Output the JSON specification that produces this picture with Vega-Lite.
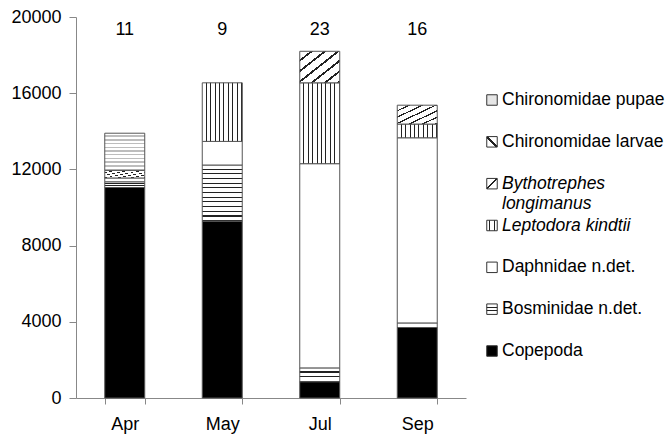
{
  "$schema": "https://vega.github.io/schema/vega-lite/v6.json",
  "autosize": {"type": "pad"},
  "padding": {"left": 10, "top": 8, "right": 0, "bottom": 0},
  "bounds": "flush",
  "spacing": 26,
  "config": {
    "view": {"stroke": null},
    "font": "Liberation Sans",
    "axis": {
      "domainColor": "#888888",
      "tickColor": "#888888",
      "labelColor": "#000000",
      "labelFont": "Liberation Sans",
      "labelFontSize": 18,
      "grid": false,
      "title": null
    }
  },
  "hconcat": [
    {
      "width": 390,
      "height": 381,
      "layer": [
        {
          "data": {
            "values": [
              {"month": "Apr", "taxon": "Copepoda", "rank": 1, "count": 11050},
              {"month": "Apr", "taxon": "Bosminidae n.det.", "rank": 2, "count": 300},
              {"month": "Apr", "taxon": "Daphnidae n.det.", "rank": 3, "count": 200},
              {"month": "Apr", "taxon": "Bythotrephes longimanus", "rank": 5, "count": 400},
              {"month": "Apr", "taxon": "Chironomidae pupae", "rank": 7, "count": 1950},
              {"month": "May", "taxon": "Copepoda", "rank": 1, "count": 9280},
              {"month": "May", "taxon": "Bosminidae n.det.", "rank": 2, "count": 2950},
              {"month": "May", "taxon": "Daphnidae n.det.", "rank": 3, "count": 1240},
              {"month": "May", "taxon": "Leptodora kindtii", "rank": 4, "count": 3075},
              {"month": "Jul", "taxon": "Copepoda", "rank": 1, "count": 855},
              {"month": "Jul", "taxon": "Bosminidae n.det.", "rank": 2, "count": 725},
              {"month": "Jul", "taxon": "Daphnidae n.det.", "rank": 3, "count": 10720},
              {"month": "Jul", "taxon": "Leptodora kindtii", "rank": 4, "count": 4245},
              {"month": "Jul", "taxon": "Bythotrephes longimanus", "rank": 5, "count": 1655},
              {"month": "Sep", "taxon": "Copepoda", "rank": 1, "count": 3700},
              {"month": "Sep", "taxon": "Bosminidae n.det.", "rank": 2, "count": 240},
              {"month": "Sep", "taxon": "Daphnidae n.det.", "rank": 3, "count": 9720},
              {"month": "Sep", "taxon": "Leptodora kindtii", "rank": 4, "count": 720},
              {"month": "Sep", "taxon": "Bythotrephes longimanus", "rank": 5, "count": 990}
            ]
          },
          "mark": {"type": "bar", "stroke": "#555555", "strokeWidth": 1},
          "encoding": {
            "x": {
              "field": "month",
              "type": "nominal",
              "sort": ["Apr", "May", "Jul", "Sep"],
              "scale": {"paddingInner": 0.59, "paddingOuter": 0.295},
              "axis": {"labelAngle": 0, "tickBand": "extent", "tickSize": 6, "labelPadding": 11}
            },
            "y": {
              "field": "count",
              "type": "quantitative",
              "stack": "zero",
              "scale": {"domain": [0, 20000], "nice": false},
              "axis": {"values": [0, 4000, 8000, 12000, 16000, 20000], "format": "d", "tickSize": 7, "labelPadding": 8}
            },
            "order": {"field": "rank", "type": "quantitative", "sort": "ascending"},
            "fill": {
              "field": "taxon",
              "type": "nominal",
              "legend": null,
              "condition": [
                {"test": "datum.taxon == 'Bosminidae n.det.' && datum.month == 'May'", "value": {"gradient": "linear", "x1": 0, "y1": 0, "x2": 0, "y2": 1, "stops": [
                  {"offset": 0, "color": "#ffffff"}, {"offset": 0.0625, "color": "#ffffff"}, {"offset": 0.0625, "color": "#222222"}, {"offset": 0.0833, "color": "#222222"},
                  {"offset": 0.0833, "color": "#ffffff"}, {"offset": 0.1458, "color": "#ffffff"}, {"offset": 0.1458, "color": "#222222"}, {"offset": 0.1667, "color": "#222222"},
                  {"offset": 0.1667, "color": "#ffffff"}, {"offset": 0.2292, "color": "#ffffff"}, {"offset": 0.2292, "color": "#222222"}, {"offset": 0.25, "color": "#222222"},
                  {"offset": 0.25, "color": "#ffffff"}, {"offset": 0.3125, "color": "#ffffff"}, {"offset": 0.3125, "color": "#222222"}, {"offset": 0.3333, "color": "#222222"},
                  {"offset": 0.3333, "color": "#ffffff"}, {"offset": 0.3958, "color": "#ffffff"}, {"offset": 0.3958, "color": "#222222"}, {"offset": 0.4167, "color": "#222222"},
                  {"offset": 0.4167, "color": "#ffffff"}, {"offset": 0.4792, "color": "#ffffff"}, {"offset": 0.4792, "color": "#222222"}, {"offset": 0.5, "color": "#222222"},
                  {"offset": 0.5, "color": "#ffffff"}, {"offset": 0.5625, "color": "#ffffff"}, {"offset": 0.5625, "color": "#222222"}, {"offset": 0.5833, "color": "#222222"},
                  {"offset": 0.5833, "color": "#ffffff"}, {"offset": 0.6458, "color": "#ffffff"}, {"offset": 0.6458, "color": "#222222"}, {"offset": 0.6667, "color": "#222222"},
                  {"offset": 0.6667, "color": "#ffffff"}, {"offset": 0.7292, "color": "#ffffff"}, {"offset": 0.7292, "color": "#222222"}, {"offset": 0.75, "color": "#222222"},
                  {"offset": 0.75, "color": "#ffffff"}, {"offset": 0.8125, "color": "#ffffff"}, {"offset": 0.8125, "color": "#222222"}, {"offset": 0.8333, "color": "#222222"},
                  {"offset": 0.8333, "color": "#ffffff"}, {"offset": 0.8958, "color": "#ffffff"}, {"offset": 0.8958, "color": "#222222"}, {"offset": 0.9167, "color": "#222222"},
                  {"offset": 0.9167, "color": "#ffffff"}, {"offset": 0.9792, "color": "#ffffff"}, {"offset": 0.9792, "color": "#222222"}, {"offset": 1, "color": "#222222"}
                ]}},
                {"test": "datum.taxon == 'Bosminidae n.det.'", "value": {"gradient": "linear", "x1": 0, "y1": 0, "x2": 0, "y2": 1, "stops": [
                  {"offset": 0, "color": "#ffffff"}, {"offset": 0.26, "color": "#ffffff"}, {"offset": 0.26, "color": "#222222"}, {"offset": 0.3333, "color": "#222222"},
                  {"offset": 0.3333, "color": "#ffffff"}, {"offset": 0.593, "color": "#ffffff"}, {"offset": 0.593, "color": "#222222"}, {"offset": 0.6667, "color": "#222222"},
                  {"offset": 0.6667, "color": "#ffffff"}, {"offset": 0.927, "color": "#ffffff"}, {"offset": 0.927, "color": "#222222"}, {"offset": 1, "color": "#222222"}
                ]}},
                {"test": "datum.taxon == 'Leptodora kindtii'", "value": {"gradient": "linear", "x1": 0, "y1": 0, "x2": 1, "y2": 0, "stops": [
                  {"offset": 0, "color": "#ffffff"}, {"offset": 0.0861, "color": "#ffffff"}, {"offset": 0.0861, "color": "#222222"}, {"offset": 0.1111, "color": "#222222"},
                  {"offset": 0.1111, "color": "#ffffff"}, {"offset": 0.1972, "color": "#ffffff"}, {"offset": 0.1972, "color": "#222222"}, {"offset": 0.2222, "color": "#222222"},
                  {"offset": 0.2222, "color": "#ffffff"}, {"offset": 0.3083, "color": "#ffffff"}, {"offset": 0.3083, "color": "#222222"}, {"offset": 0.3333, "color": "#222222"},
                  {"offset": 0.3333, "color": "#ffffff"}, {"offset": 0.4194, "color": "#ffffff"}, {"offset": 0.4194, "color": "#222222"}, {"offset": 0.4444, "color": "#222222"},
                  {"offset": 0.4444, "color": "#ffffff"}, {"offset": 0.5306, "color": "#ffffff"}, {"offset": 0.5306, "color": "#222222"}, {"offset": 0.5556, "color": "#222222"},
                  {"offset": 0.5556, "color": "#ffffff"}, {"offset": 0.6417, "color": "#ffffff"}, {"offset": 0.6417, "color": "#222222"}, {"offset": 0.6667, "color": "#222222"},
                  {"offset": 0.6667, "color": "#ffffff"}, {"offset": 0.7528, "color": "#ffffff"}, {"offset": 0.7528, "color": "#222222"}, {"offset": 0.7778, "color": "#222222"},
                  {"offset": 0.7778, "color": "#ffffff"}, {"offset": 0.8639, "color": "#ffffff"}, {"offset": 0.8639, "color": "#222222"}, {"offset": 0.8889, "color": "#222222"},
                  {"offset": 0.8889, "color": "#ffffff"}, {"offset": 0.975, "color": "#ffffff"}, {"offset": 0.975, "color": "#222222"}, {"offset": 1, "color": "#222222"}
                ]}},
                {"test": "datum.taxon == 'Bythotrephes longimanus'", "value": {"gradient": "linear", "x1": 0, "y1": 0, "x2": 1, "y2": 1, "stops": [
                  {"offset": 0, "color": "#ffffff"}, {"offset": 0.13, "color": "#ffffff"}, {"offset": 0.13, "color": "#222222"}, {"offset": 0.1667, "color": "#222222"},
                  {"offset": 0.1667, "color": "#ffffff"}, {"offset": 0.2967, "color": "#ffffff"}, {"offset": 0.2967, "color": "#222222"}, {"offset": 0.3333, "color": "#222222"},
                  {"offset": 0.3333, "color": "#ffffff"}, {"offset": 0.4633, "color": "#ffffff"}, {"offset": 0.4633, "color": "#222222"}, {"offset": 0.5, "color": "#222222"},
                  {"offset": 0.5, "color": "#ffffff"}, {"offset": 0.63, "color": "#ffffff"}, {"offset": 0.63, "color": "#222222"}, {"offset": 0.6667, "color": "#222222"},
                  {"offset": 0.6667, "color": "#ffffff"}, {"offset": 0.7967, "color": "#ffffff"}, {"offset": 0.7967, "color": "#222222"}, {"offset": 0.8333, "color": "#222222"},
                  {"offset": 0.8333, "color": "#ffffff"}, {"offset": 0.9633, "color": "#ffffff"}, {"offset": 0.9633, "color": "#222222"}, {"offset": 1, "color": "#222222"}
                ]}},
                {"test": "datum.taxon == 'Chironomidae pupae'", "value": {"gradient": "linear", "x1": 0, "y1": 0, "x2": 0, "y2": 1, "stops": [
                  {"offset": 0, "color": "#ffffff"}, {"offset": 0.06, "color": "#ffffff"}, {"offset": 0.06, "color": "#bdbdbd"}, {"offset": 0.1, "color": "#bdbdbd"},
                  {"offset": 0.1, "color": "#ffffff"}, {"offset": 0.16, "color": "#ffffff"}, {"offset": 0.16, "color": "#bdbdbd"}, {"offset": 0.2, "color": "#bdbdbd"},
                  {"offset": 0.2, "color": "#ffffff"}, {"offset": 0.26, "color": "#ffffff"}, {"offset": 0.26, "color": "#bdbdbd"}, {"offset": 0.3, "color": "#bdbdbd"},
                  {"offset": 0.3, "color": "#ffffff"}, {"offset": 0.36, "color": "#ffffff"}, {"offset": 0.36, "color": "#bdbdbd"}, {"offset": 0.4, "color": "#bdbdbd"},
                  {"offset": 0.4, "color": "#ffffff"}, {"offset": 0.46, "color": "#ffffff"}, {"offset": 0.46, "color": "#bdbdbd"}, {"offset": 0.5, "color": "#bdbdbd"},
                  {"offset": 0.5, "color": "#ffffff"}, {"offset": 0.56, "color": "#ffffff"}, {"offset": 0.56, "color": "#bdbdbd"}, {"offset": 0.6, "color": "#bdbdbd"},
                  {"offset": 0.6, "color": "#ffffff"}, {"offset": 0.66, "color": "#ffffff"}, {"offset": 0.66, "color": "#bdbdbd"}, {"offset": 0.7, "color": "#bdbdbd"},
                  {"offset": 0.7, "color": "#ffffff"}, {"offset": 0.76, "color": "#ffffff"}, {"offset": 0.76, "color": "#bdbdbd"}, {"offset": 0.8, "color": "#bdbdbd"},
                  {"offset": 0.8, "color": "#ffffff"}, {"offset": 0.86, "color": "#ffffff"}, {"offset": 0.86, "color": "#bdbdbd"}, {"offset": 0.9, "color": "#bdbdbd"},
                  {"offset": 0.9, "color": "#ffffff"}, {"offset": 0.96, "color": "#ffffff"}, {"offset": 0.96, "color": "#bdbdbd"}, {"offset": 1, "color": "#bdbdbd"}
                ]}}
              ],
              "scale": {
                "domain": ["Chironomidae pupae", "Chironomidae larvae", "Bythotrephes longimanus", "Leptodora kindtii", "Daphnidae n.det.", "Bosminidae n.det.", "Copepoda"],
                "range": ["#e6e6e6", "#bbbbbb", "#bbbbbb", "#aaaaaa", "#ffffff", "#aaaaaa", "#000000"]
              }
            }
          }
        },
        {
          "data": {
            "values": [
              {"month": "Apr", "n": 11},
              {"month": "May", "n": 9},
              {"month": "Jul", "n": 23},
              {"month": "Sep", "n": 16}
            ]
          },
          "mark": {"type": "text", "font": "Liberation Sans", "fontSize": 18, "color": "#000000", "baseline": "middle"},
          "encoding": {
            "x": {"field": "month", "type": "nominal", "sort": ["Apr", "May", "Jul", "Sep"]},
            "y": {"datum": 19300, "type": "quantitative"},
            "text": {"field": "n", "type": "nominal"}
          }
        }
      ]
    },
    {
      "width": 175,
      "height": 417,
      "data": {
        "values": [
          {"taxon": "Chironomidae pupae", "label": "Chironomidae pupae"},
          {"taxon": "Chironomidae larvae", "label": "Chironomidae larvae"},
          {"taxon": "Bythotrephes longimanus", "label": "Bythotrephes\nlongimanus"},
          {"taxon": "Leptodora kindtii", "label": "Leptodora kindtii"},
          {"taxon": "Daphnidae n.det.", "label": "Daphnidae n.det."},
          {"taxon": "Bosminidae n.det.", "label": "Bosminidae n.det."},
          {"taxon": "Copepoda", "label": "Copepoda"}
        ]
      },
      "encoding": {
        "x": {"datum": 0, "type": "quantitative", "scale": {"domain": [0, 1]}, "axis": null},
        "y": {
          "field": "taxon",
          "type": "nominal",
          "sort": ["Chironomidae pupae", "Chironomidae larvae", "Bythotrephes longimanus", "Leptodora kindtii", "Daphnidae n.det.", "Bosminidae n.det.", "Copepoda"],
          "scale": {"type": "point", "padding": 0, "range": [83, 334]},
          "axis": null
        }
      },
      "layer": [
        {
          "mark": {"type": "square", "size": 110, "filled": true, "opacity": 1, "stroke": "#333333", "strokeWidth": 1},
          "encoding": {
            "fill": {
              "field": "taxon",
              "type": "nominal",
              "legend": null,
              "condition": [
                {"test": "datum.taxon == 'Bosminidae n.det.'", "value": {"gradient": "linear", "x1": 0, "y1": 0, "x2": 0, "y2": 1, "stops": [
                  {"offset": 0, "color": "#ffffff"}, {"offset": 0.3, "color": "#ffffff"}, {"offset": 0.3, "color": "#222222"}, {"offset": 0.39, "color": "#222222"},
                  {"offset": 0.39, "color": "#ffffff"}, {"offset": 0.61, "color": "#ffffff"}, {"offset": 0.61, "color": "#222222"}, {"offset": 0.7, "color": "#222222"},
                  {"offset": 0.7, "color": "#ffffff"}, {"offset": 1, "color": "#ffffff"}
                ]}},
                {"test": "datum.taxon == 'Leptodora kindtii'", "value": {"gradient": "linear", "x1": 0, "y1": 0, "x2": 1, "y2": 0, "stops": [
                  {"offset": 0, "color": "#ffffff"}, {"offset": 0.21, "color": "#ffffff"}, {"offset": 0.21, "color": "#222222"}, {"offset": 0.29, "color": "#222222"},
                  {"offset": 0.29, "color": "#ffffff"}, {"offset": 0.46, "color": "#ffffff"}, {"offset": 0.46, "color": "#222222"}, {"offset": 0.54, "color": "#222222"},
                  {"offset": 0.54, "color": "#ffffff"}, {"offset": 0.71, "color": "#ffffff"}, {"offset": 0.71, "color": "#222222"}, {"offset": 0.79, "color": "#222222"},
                  {"offset": 0.79, "color": "#ffffff"}, {"offset": 1, "color": "#ffffff"}
                ]}},
                {"test": "datum.taxon == 'Bythotrephes longimanus'", "value": {"gradient": "linear", "x1": 0, "y1": 0, "x2": 1, "y2": 1, "stops": [
                  {"offset": 0, "color": "#ffffff"}, {"offset": 0.44, "color": "#ffffff"}, {"offset": 0.44, "color": "#222222"}, {"offset": 0.56, "color": "#222222"},
                  {"offset": 0.56, "color": "#ffffff"}, {"offset": 1, "color": "#ffffff"}
                ]}},
                {"test": "datum.taxon == 'Chironomidae larvae'", "value": {"gradient": "linear", "x1": 1, "y1": 0, "x2": 0, "y2": 1, "stops": [
                  {"offset": 0, "color": "#ffffff"}, {"offset": 0.44, "color": "#ffffff"}, {"offset": 0.44, "color": "#222222"}, {"offset": 0.56, "color": "#222222"},
                  {"offset": 0.56, "color": "#ffffff"}, {"offset": 1, "color": "#ffffff"}
                ]}}
              ],
              "scale": {
                "domain": ["Chironomidae pupae", "Chironomidae larvae", "Bythotrephes longimanus", "Leptodora kindtii", "Daphnidae n.det.", "Bosminidae n.det.", "Copepoda"],
                "range": ["#e6e6e6", "#bbbbbb", "#bbbbbb", "#aaaaaa", "#ffffff", "#aaaaaa", "#000000"]
              }
            }
          }
        },
        {
          "transform": [{"filter": "datum.taxon != 'Bythotrephes longimanus' && datum.taxon != 'Leptodora kindtii'"}],
          "mark": {"type": "text", "align": "left", "baseline": "middle", "dx": 10, "font": "Liberation Sans", "fontSize": 17.5, "color": "#000000"},
          "encoding": {"text": {"field": "label", "type": "nominal"}}
        },
        {
          "transform": [{"filter": "datum.taxon == 'Leptodora kindtii'"}],
          "mark": {"type": "text", "align": "left", "baseline": "middle", "dx": 10, "font": "Liberation Sans", "fontSize": 17.5, "fontStyle": "italic", "color": "#000000"},
          "encoding": {"text": {"field": "label", "type": "nominal"}}
        },
        {
          "transform": [{"filter": "datum.taxon == 'Bythotrephes longimanus'"}],
          "mark": {"type": "text", "align": "left", "baseline": "middle", "dx": 10, "lineBreak": "\n", "lineHeight": 20, "font": "Liberation Sans", "fontSize": 17.5, "fontStyle": "italic", "color": "#000000"},
          "encoding": {"text": {"field": "label", "type": "nominal"}}
        }
      ]
    }
  ]
}
